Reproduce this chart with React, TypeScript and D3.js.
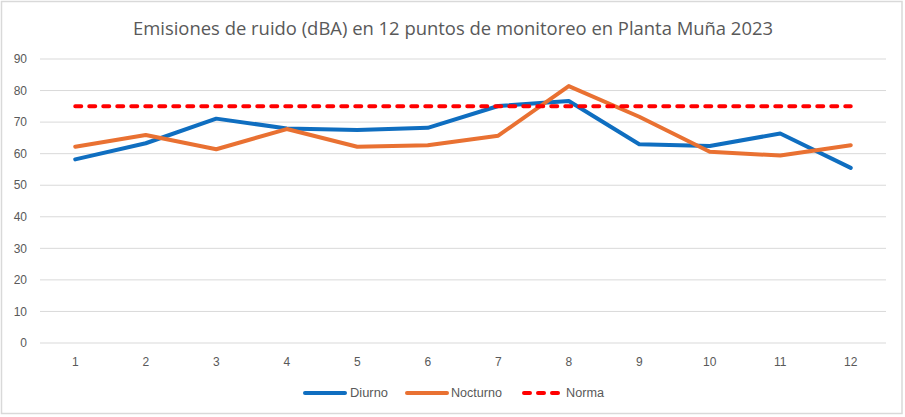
import React from "react";
import * as d3 from "d3";

const categories = ["1", "2", "3", "4", "5", "6", "7", "8", "9", "10", "11", "12"];
const diurno = [58.2, 63.3, 71.1, 68.0, 67.5, 68.2, 75.1, 76.7, 63.0, 62.4, 66.4, 55.5];
const nocturno = [62.2, 65.9, 61.4, 67.8, 62.2, 62.7, 65.7, 81.4, 71.7, 60.6, 59.4, 62.7];
const norma = [75, 75, 75, 75, 75, 75, 75, 75, 75, 75, 75, 75];
const yTicks = [0, 10, 20, 30, 40, 50, 60, 70, 80, 90];
const title = "Emisiones de ruido (dBA) en 12 puntos de monitoreo en Planta Muña 2023";

const W = 905;
const H = 417;
const textColor = "#595959";
const gridColor = "#d9d9d9";
const blue = "#0F6EC0";
const orange = "#E97132";
const red = "#FF0000";
const font = "'Liberation Sans', Arial, sans-serif";

export default function App() {
  const x = d3.scaleBand<string>().domain(categories).range([40, 886]).padding(0);
  const cx = (c: string) => (x(c) as number) + x.bandwidth() / 2;
  const y = d3.scaleLinear().domain([0, 90]).range([343, 59]);

  const line = d3
    .line<number>()
    .x((_, i) => cx(categories[i]))
    .y((d) => y(d));

  const series = [
    { name: "Diurno", values: diurno, color: blue },
    { name: "Nocturno", values: nocturno, color: orange },
  ];

  const legend = [
    { name: "Diurno", color: blue, dash: undefined as string | undefined, x1: 305, x2: 345, tx: 350, tl: 38 },
    { name: "Nocturno", color: orange, dash: undefined as string | undefined, x1: 407, x2: 447, tx: 451, tl: 51 },
    { name: "Norma", color: red, dash: "6 8", x1: 524, x2: 558, tx: 566, tl: 38 },
  ];

  return (
    <div style={{ position: "absolute", left: 0, top: 0 }}>
      <svg width={W} height={H} style={{ display: "block" }}>
        <rect x={1.5} y={1.5} width={900.5} height={412} fill="#ffffff" stroke={gridColor} strokeWidth={1.5} />
        <text
          x={453}
          y={35}
          textAnchor="middle"
          fontFamily="'Open Sans', 'Noto Sans', sans-serif"
          fontSize={18}
          fill={textColor}
          textLength={640}
          lengthAdjust="spacingAndGlyphs"
        >
          {title}
        </text>
        {yTicks.map((t) => (
          <g key={t}>
            <line x1={40} x2={886} y1={y(t)} y2={y(t)} stroke={gridColor} strokeWidth={1} />
            <text x={27} y={y(t)} dy="0.35em" textAnchor="end" fontFamily={font} fontSize={12} fill={textColor}>
              {t}
            </text>
          </g>
        ))}
        {categories.map((c) => (
          <text key={c} x={cx(c)} y={362} dy="0.35em" textAnchor="middle" fontFamily={font} fontSize={12} fill={textColor}>
            {c}
          </text>
        ))}
        {series.map((s) => (
          <path
            key={s.name}
            d={line(s.values) || ""}
            fill="none"
            stroke={s.color}
            strokeWidth={4}
            strokeLinejoin="round"
            strokeLinecap="round"
          />
        ))}
        <path
          d={line(norma) || ""}
          fill="none"
          stroke={red}
          strokeWidth={4}
          strokeDasharray="6 8"
          strokeLinecap="round"
        />
        {legend.map((l) => (
          <g key={l.name}>
            <line
              x1={l.x1}
              x2={l.x2}
              y1={393}
              y2={393}
              stroke={l.color}
              strokeWidth={4}
              strokeLinecap="round"
              strokeDasharray={l.dash}
            />
            <text
              x={l.tx}
              y={393}
              dy="0.35em"
              fontFamily={font}
              fontSize={12}
              fill={textColor}
              textLength={l.tl}
              lengthAdjust="spacingAndGlyphs"
            >
              {l.name}
            </text>
          </g>
        ))}
      </svg>
    </div>
  );
}
